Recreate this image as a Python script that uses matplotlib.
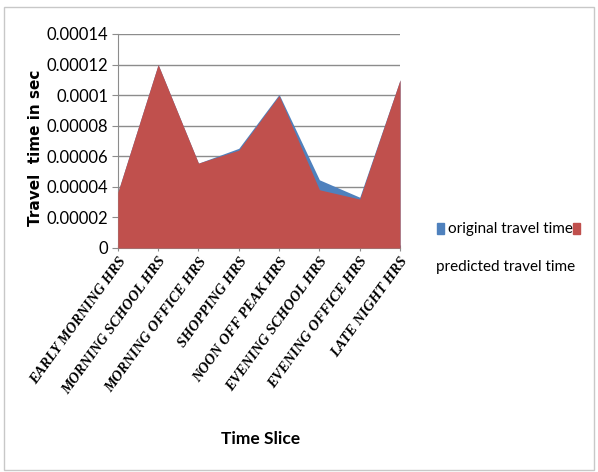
import matplotlib.pyplot as plt
from matplotlib.patches import Rectangle

time_slices = ['EARLY MORNING HRS', 'MORNING SCHOOL HRS', 'MORNING OFFICE HRS',
               'SHOPPING HRS', 'NOON OFF PEAK HRS', 'EVENING SCHOOL HRS',
               'EVENING OFFICE HRS', 'LATE NIGHT HRS']
original = [0.0000364, 0.000120, 0.0000555, 0.0000652, 0.0001005, 0.0000446, 0.0000332, 0.000110]
predicted = [0.0000364, 0.000120, 0.0000555, 0.0000640, 0.0000997, 0.0000381, 0.0000320, 0.000110]
y_ticks = [0, 0.00002, 0.00004, 0.00006, 0.00008, 0.0001, 0.00012, 0.00014]
y_tick_labels = ['0', '0.00002', '0.00004', '0.00006', '0.00008', '0.0001', '0.00012', '0.00014']

blue = '#4f81bd'
red = '#c0504d'

fig = plt.figure(figsize=(5.98, 4.72), dpi=100)
ax = fig.add_axes([0.197, 0.4746, 0.472, 0.4534])

x = range(len(time_slices))
ax.fill_between(x, original, 0, color=blue, linewidth=0, zorder=2)
ax.fill_between(x, predicted, 0, color=red, linewidth=0, zorder=3)

ax.set_xlim(0, len(time_slices) - 1)
ax.set_ylim(0, 0.00014)
ax.set_yticks(y_ticks)
ax.set_yticklabels(y_tick_labels, fontfamily='Lato', fontsize=12)
ax.set_xticks(list(x))
ax.set_xticklabels(time_slices, rotation=54, ha='right', va='top',
                   rotation_mode='anchor', fontfamily='Liberation Serif',
                   fontweight='bold', fontstyle='italic', fontsize=10.5)
ax.grid(axis='y', color='#8c8c8c', linewidth=1.0, zorder=1)
ax.set_axisbelow(True)
ax.tick_params(axis='y', length=4, color='#8c8c8c', pad=3)
ax.tick_params(axis='x', length=4, color='#8c8c8c', direction='inout', pad=3)
for side in ['top', 'right']:
    ax.spines[side].set_visible(False)
for side in ['left', 'bottom']:
    ax.spines[side].set_color('#8c8c8c')

ax.set_ylabel('Travel  time in sec', fontfamily='DejaVu Sans', fontweight='bold',
              fontsize=11)
ax.yaxis.set_label_coords(-0.265, 0.47)
fig.text(0.435, 0.07, 'Time Slice', fontfamily='Lato', fontweight='bold',
         fontsize=12.5, ha='center', va='center')

# legend drawn by hand so the second entry wraps like the original
fig.patches.append(Rectangle((0.731, 0.505), 0.012, 0.022, transform=fig.transFigure,
                             color=blue))
fig.text(0.749, 0.515, 'original travel time', fontfamily='Lato', fontsize=11,
         va='center', ha='left')
fig.patches.append(Rectangle((0.958, 0.505), 0.012, 0.022, transform=fig.transFigure,
                             color=red))
fig.text(0.729, 0.435, 'predicted travel time', fontfamily='Lato', fontsize=11,
         va='center', ha='left')

# thin frame around the whole chart
fig.patches.append(Rectangle((0.006, 0.005), 0.988, 0.98, transform=fig.transFigure,
                             fill=False, edgecolor='#c8c8c8', linewidth=1.0))

fig.savefig('out.png', dpi=100)
